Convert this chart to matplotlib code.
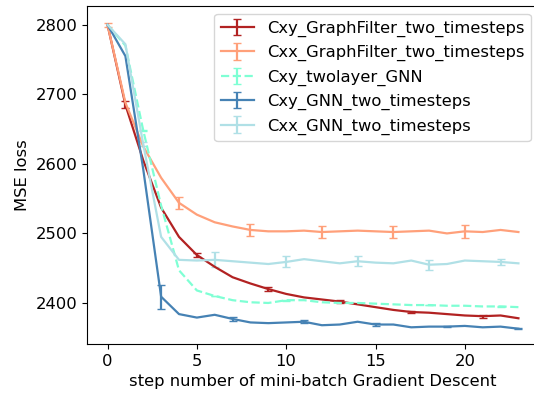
import numpy as np
import matplotlib
matplotlib.use('Agg')
import matplotlib.pyplot as plt

# шаги градиентного спуска
steps = list(range(24))

# Cxy_GraphFilter_two_timesteps
cxy_gf = [2800, 2685, 2605, 2537, 2495, 2469, 2452, 2437, 2428, 2420, 2413, 2408,
          2405, 2402, 2398, 2394, 2390, 2387, 2386, 2384, 2382, 2381, 2382, 2378]
cxy_gf_err = [5, 3, 3, 2, 2, 2]

# Cxx_GraphFilter_two_timesteps
cxx_gf = [2800, 2688, 2625, 2580, 2544, 2527, 2516, 2510, 2505, 2503, 2503, 2504,
          2502, 2503, 2504, 2503, 2502, 2503, 2504, 2500, 2503, 2502, 2505, 2502]
cxx_gf_err = [3, 9, 9, 9, 9, 9]

# Cxy_twolayer_GNN
cxy_two = [2800, 2770, 2648, 2540, 2447, 2418, 2410, 2404, 2401, 2400, 2404, 2404,
           2401, 2400, 2400, 2399, 2398, 2397, 2397, 2396, 2396, 2395, 2395, 2394]
cxy_two_err = [0.5, 0.5, 0.5, 0.5, 0.5, 0.5]

# Cxy_GNN_two_timesteps
cxy_gnn = [2800, 2755, 2592, 2409, 2384, 2379, 2383, 2377, 2372, 2371, 2372, 2373,
           2368, 2369, 2373, 2369, 2369, 2365, 2366, 2366, 2367, 2365, 2366, 2363]
cxy_gnn_err = [17, 3, 2, 2, 1, 1]

# Cxx_GNN_two_timesteps
cxx_gnn = [2800, 2772, 2628, 2495, 2462, 2461, 2462, 2460, 2458, 2456, 2459, 2463,
           2460, 2457, 2460, 2458, 2457, 2461, 2455, 2456, 2461, 2460, 2459, 2457]
cxx_gnn_err = [3, 11, 8, 7, 7, 4]

labels = ['Cxy_GraphFilter_two_timesteps', 'Cxx_GraphFilter_two_timesteps',
          'Cxy_twolayer_GNN', 'Cxy_GNN_two_timesteps', 'Cxx_GNN_two_timesteps']
colors = ['#b22222', '#ffa07a', '#7fffd4', '#4682b4', '#b0e0e6']
styles = ['-', '-', '--', '-', '-']
offsets = [1, 0, 2, 3, 2]


def full_err(errs, offset, n):
    # ошибки только в тех точках, где рисуется errorbar
    e = np.zeros(n)
    e[offset::4][:len(errs)] = errs
    return e


plt.rcParams['font.size'] = 11.8
fig = plt.figure(figsize=(5.34, 3.94), dpi=100)
# правый край оси чуть за пределами картинки, как в оригинале
ax = fig.add_axes([0.1629, 0.1269, 0.8464, 0.8579])

series = [cxy_gf, cxx_gf, cxy_two, cxy_gnn, cxx_gnn]
errors = [cxy_gf_err, cxx_gf_err, cxy_two_err, cxy_gnn_err, cxx_gnn_err]
for y, err, lab, c, ls, off in zip(series, errors, labels, colors, styles, offsets):
    ax.errorbar(steps, y, yerr=full_err(err, off, len(steps)),
                errorevery=(off, 4), color=c, linestyle=ls, capsize=3,
                linewidth=1.6, label=lab)

ax.spines['right'].set_visible(False)
ax.set_ylim(2341, 2827)
ax.set_xticks([0, 5, 10, 15, 20])
ax.set_yticks([2400, 2500, 2600, 2700, 2800])
ax.set_xlabel('step number of mini-batch Gradient Descent')
ax.set_ylabel('MSE loss')
ax.legend(loc='upper right')

fig.savefig('out.png', dpi=100)
